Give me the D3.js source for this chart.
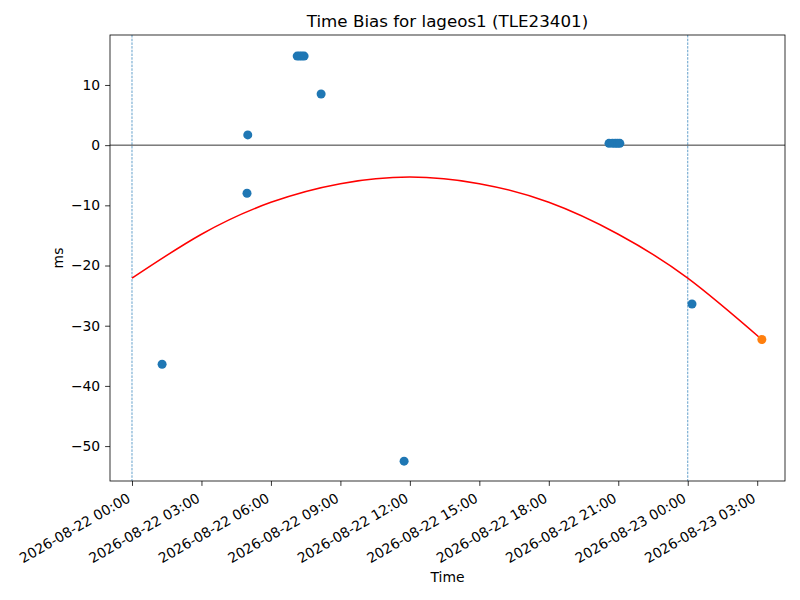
<!DOCTYPE html>
<html>
<head>
<meta charset="utf-8">
<script src="https://cdn.jsdelivr.net/npm/d3@7"></script>
<style>
  body { margin: 0; background: #fff; }
  text { font-family: "DejaVu Sans", sans-serif; fill: #000; }
  .axis line { stroke: #000; stroke-width: 0.8; }
  .axis text { font-size: 13.9px; }
</style>
</head>
<body>
<div id="chart"></div>
<script>

// observed time bias points (blue)
var obsTimes = ["2026-08-22 01:18", "2026-08-22 04:58", "2026-08-22 05:00",
    "2026-08-22 07:08", "2026-08-22 07:14", "2026-08-22 07:20", "2026-08-22 07:26",
    "2026-08-22 08:10", "2026-08-22 11:45",
    "2026-08-22 20:36", "2026-08-22 20:45", "2026-08-22 20:52", "2026-08-22 20:58", "2026-08-22 21:04",
    "2026-08-23 00:11"];
var obsMs = [-36.4, -8.0, 1.7, 14.8, 14.8, 14.8, 14.8, 8.5, -52.5,
    0.3, 0.3, 0.3, 0.3, 0.3, -26.4];

// predicted point (orange)
var predTimes = ["2026-08-23 03:12"];
var predMs = [-32.3];

// fitted curve (red)
var fitTimes = ["2026-08-22 00:00", "2026-08-22 03:00", "2026-08-22 06:00", "2026-08-22 09:00",
    "2026-08-22 12:00", "2026-08-22 15:00", "2026-08-22 18:00", "2026-08-22 21:00",
    "2026-08-23 00:00", "2026-08-23 03:12"];
var fitMs = [-22.1, -14.8, -9.5, -6.4, -5.3, -6.4, -9.5, -14.8, -22.1, -32.3];

// pass boundaries (dashed)
var boundTimes = ["2026-08-22 00:00", "2026-08-23 00:00"];

var yTicks = [10, 0, -10, -20, -30, -40, -50];
var xTickTimes = ["2026-08-22 00:00", "2026-08-22 03:00", "2026-08-22 06:00", "2026-08-22 09:00",
    "2026-08-22 12:00", "2026-08-22 15:00", "2026-08-22 18:00", "2026-08-22 21:00",
    "2026-08-23 00:00", "2026-08-23 03:00"];

var parse = d3.timeParse("%Y-%m-%d %H:%M");
var fmt = d3.timeFormat("%Y-%m-%d %H:%M");

var margin = {top: 35, right: 15, bottom: 119, left: 110},
    width = 800 - margin.left - margin.right,
    height = 600 - margin.top - margin.bottom;

var x = d3.scaleTime()
    .domain([parse("2026-08-21 23:03"), parse("2026-08-23 04:12")])
    .range([0, width]);
var y = d3.scaleLinear()
    .domain([-55.8, 18.3])
    .range([height, 0]);

var svg = d3.select("#chart").append("svg")
    .attr("width", 800)
    .attr("height", 600);
var g = svg.append("g")
    .attr("transform", "translate(" + margin.left + "," + margin.top + ")");

// dashed vertical lines
g.selectAll(".bound").data(boundTimes).enter().append("line")
    .attr("class", "bound")
    .attr("x1", function(d) { return x(parse(d)); })
    .attr("x2", function(d) { return x(parse(d)); })
    .attr("y1", 0).attr("y2", height)
    .attr("stroke", "#1f77b4")
    .attr("stroke-width", 0.7)
    .attr("stroke-dasharray", "2.5,1.2");

// zero line
g.append("line")
    .attr("x1", 0).attr("x2", width)
    .attr("y1", y(0)).attr("y2", y(0))
    .attr("stroke", "#000").attr("stroke-width", 0.8);

// points
var obs = obsTimes.map(function(t, i) { return {t: parse(t), v: obsMs[i]}; });
g.selectAll(".obs").data(obs).enter().append("circle")
    .attr("class", "obs")
    .attr("cx", function(d) { return x(d.t); })
    .attr("cy", function(d) { return y(d.v); })
    .attr("r", 4.5)
    .attr("fill", "#1f77b4");

// fit curve
var fit = fitTimes.map(function(t, i) { return {t: parse(t), v: fitMs[i]}; });
var line = d3.line()
    .x(function(d) { return x(d.t); })
    .y(function(d) { return y(d.v); })
    .curve(d3.curveNatural);
g.append("path")
    .datum(fit)
    .attr("d", line)
    .attr("fill", "none")
    .attr("stroke", "red")
    .attr("stroke-width", 1.5);

var pred = predTimes.map(function(t, i) { return {t: parse(t), v: predMs[i]}; });
g.selectAll(".pred").data(pred).enter().append("circle")
    .attr("class", "pred")
    .attr("cx", function(d) { return x(d.t); })
    .attr("cy", function(d) { return y(d.v); })
    .attr("r", 4.5)
    .attr("fill", "#ff7f0e");

// axes
var xAxis = g.append("g").attr("class", "axis")
    .attr("transform", "translate(0," + height + ")")
    .call(d3.axisBottom(x).tickValues(xTickTimes.map(parse)).tickFormat(fmt).tickSizeOuter(0).tickSize(4.9));
xAxis.select(".domain").remove();
xAxis.selectAll("text")
    .attr("text-anchor", "end")
    .attr("x", 0).attr("y", 0).attr("dy", 0)
    .attr("transform", "translate(-1,20) rotate(-30)");

var yAxis = g.append("g").attr("class", "axis")
    .call(d3.axisLeft(y).tickValues(yTicks).tickFormat(function(d) { return d < 0 ? "\u2212" + Math.abs(d) : d; }).tickSizeOuter(0).tickSize(4.9).tickPadding(4.9));
yAxis.select(".domain").remove();

// frame
g.append("rect")
    .attr("width", width).attr("height", height)
    .attr("fill", "none").attr("stroke", "#000").attr("stroke-width", 0.8);

// labels
svg.append("text")
    .attr("x", margin.left + width / 2).attr("y", 27)
    .attr("text-anchor", "middle")
    .style("font-size", "16.7px")
    .text("Time Bias for lageos1 (TLE23401)");
svg.append("text")
    .attr("x", margin.left + width / 2).attr("y", 582)
    .attr("text-anchor", "middle")
    .style("font-size", "13.9px")
    .text("Time");
svg.append("text")
    .attr("transform", "translate(63," + (margin.top + height / 2) + ") rotate(-90)")
    .attr("text-anchor", "middle")
    .style("font-size", "13.9px")
    .text("ms");
</script>
</body>
</html>
